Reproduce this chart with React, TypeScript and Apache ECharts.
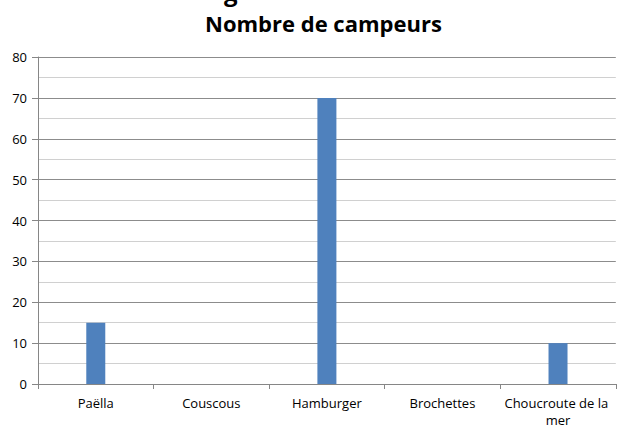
import React, { useEffect, useRef } from "react";
import * as echarts from "echarts";

const categories = ["Paëlla", "Couscous", "Hamburger", "Brochettes", "Choucroute de la mer"];
const campeurs = [15, 0, 70, 0, 10];
const titleText = "Nombre de campeurs";

export default function App() {
  const ref = useRef<HTMLDivElement>(null);
  useEffect(() => {
    const chart = echarts.init(ref.current!, null, { renderer: "svg" });
    chart.setOption({
      animation: false,
      backgroundColor: "#ffffff",
      title: {
        text: titleText,
        left: 200,
        top: 7,
        textStyle: { fontFamily: "Open Sans", fontWeight: "bold", fontSize: 22, color: "#000" },
      },
      graphic: [
        {
          type: "text",
          left: 224,
          top: -21,
          style: { text: "g", font: "bold 24px 'Open Sans'", fill: "#000" },
        },
      ],
      grid: { left: 38, right: 1, top: 57, bottom: 41, containLabel: false },
      xAxis: {
        type: "category",
        data: categories,
        boundaryGap: true,
        axisLine: { show: true, lineStyle: { color: "#868686", width: 1 } },
        axisTick: { show: true, length: 5, lineStyle: { color: "#868686" } },
        axisLabel: {
          interval: 0,
          margin: 10,
          fontFamily: "Open Sans",
          fontSize: 13,
          color: "#000",
          width: 112,
          overflow: "break",
          lineHeight: 17,
        },
      },
      yAxis: {
        type: "value",
        min: 0,
        max: 80,
        interval: 10,
        axisLine: { show: true, lineStyle: { color: "#868686", width: 1 } },
        axisTick: { show: true, length: 6, lineStyle: { color: "#868686" } },
        axisLabel: { fontFamily: "Open Sans", fontSize: 13, color: "#000", margin: 11 },
        splitLine: { show: true, lineStyle: { color: "#8c8c8c", width: 1 } },
        minorTick: { show: false, splitNumber: 2 },
        minorSplitLine: { show: true, lineStyle: { color: "#d0d0d0", width: 1 } },
      },
      series: [
        {
          type: "bar",
          data: campeurs,
          barWidth: 19,
          itemStyle: { color: "#4f81bd" },
        },
      ],
    });
    return () => chart.dispose();
  }, []);
  return (
    <div
      ref={ref}
      style={{ position: "fixed", left: 0, top: 0, width: 617, height: 428 }}
    />
  );
}
